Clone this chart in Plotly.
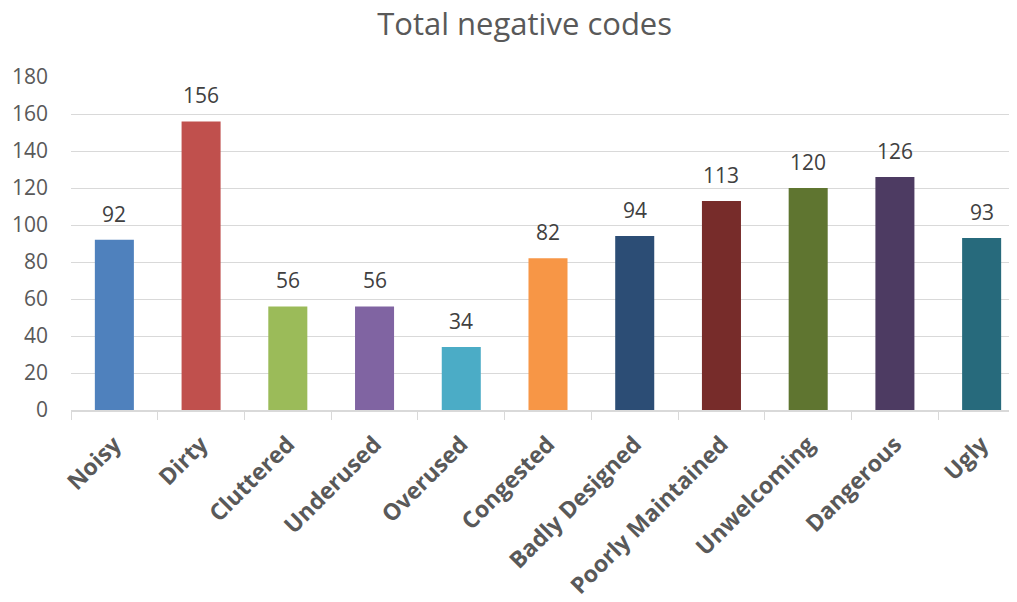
import plotly.graph_objects as go

# Chart data
categories = ["Noisy", "Dirty", "Cluttered", "Underused", "Overused", "Congested",
              "Badly Designed", "Poorly Maintained", "Unwelcoming", "Dangerous", "Ugly"]
counts = [92, 156, 56, 56, 34, 82, 94, 113, 120, 126, 93]
bar_colors = ["#4F81BD", "#C0504D", "#9BBB59", "#8064A2", "#4BACC6", "#F79646",
              "#2C4D75", "#772C2A", "#5F7530", "#4D3B62", "#276A7C"]
y_ticks = [0, 20, 40, 60, 80, 100, 120, 140, 160, 180]

fig = go.Figure()

fig.add_trace(go.Bar(x=categories, y=counts, marker_color=bar_colors,
                     marker_line_width=0, width=0.45, showlegend=False))

# Data labels above bars
for cat, val in zip(categories, counts):
    fig.add_annotation(x=cat, y=val, text=str(val), showarrow=False,
                       yanchor="bottom", yshift=10,
                       font=dict(family="Open Sans", size=21, color="#404040"))

# page body has an 8px margin, so the figure sits at (8, 8) in the window
fig.update_layout(
    width=1017, height=602,
    title=dict(text="Total negative codes", x=0.508, xanchor="center", y=0.973, yanchor="middle",
               font=dict(family="Open Sans", size=31, color="#595959")),
    plot_bgcolor="white", paper_bgcolor="white",
    margin=dict(l=63, r=0, t=69, b=200, autoexpand=False),
    font=dict(family="Open Sans", color="#595959"),
)

fig.update_xaxes(type="category", range=[-0.5, 10.5], tickangle=-45, automargin=False,
                 tickfont=dict(family="Open Sans", size=23, color="#595959", weight="bold"),
                 showline=True, linecolor="#d9d9d9", linewidth=1.5,
                 ticks="outside", tickson="boundaries", ticklen=8, tickcolor="#d9d9d9",
                 ticklabelstandoff=10, showgrid=False)

fig.update_yaxes(range=[0, 180], tickvals=y_ticks, showgrid=True, gridcolor="#d9d9d9",
                 gridwidth=1, zeroline=False, showline=False, ticklabelstandoff=22,
                 automargin=False,
                 tickfont=dict(family="Open Sans", size=21, color="#595959"))

fig.write_html("out.html")
